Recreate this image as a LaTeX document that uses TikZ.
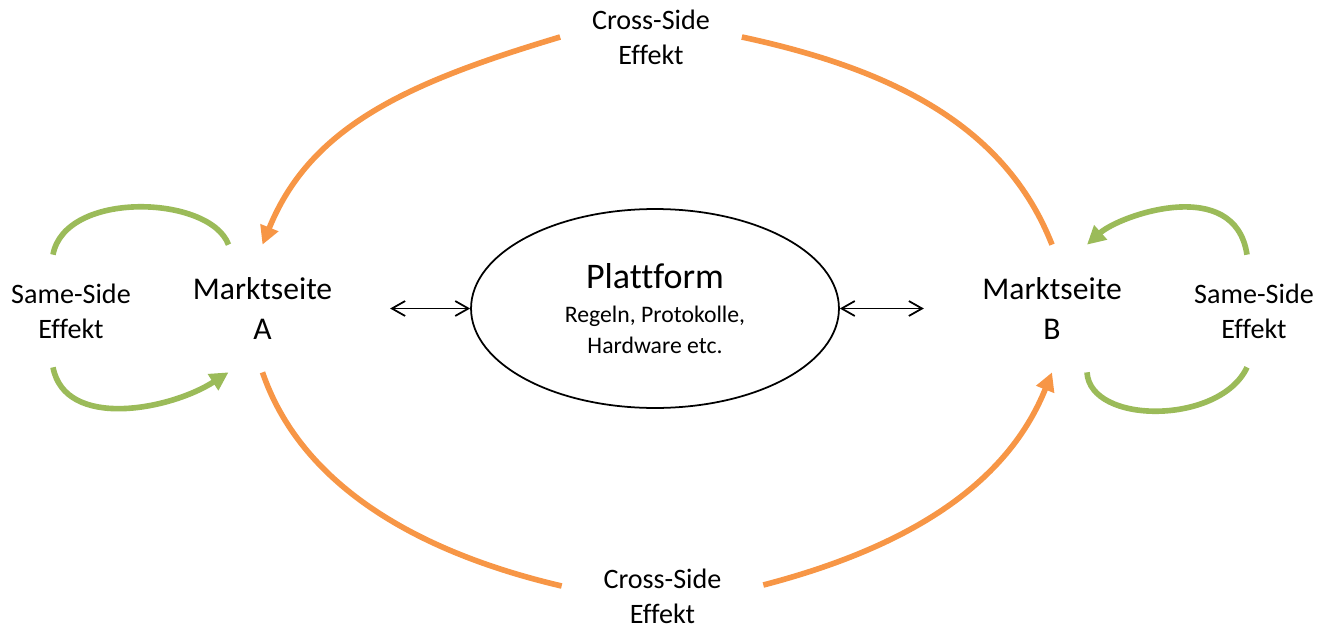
\documentclass[tikz,border=0pt]{standalone}
\usepackage{fontspec}
\setmainfont{Carlito}[Ligatures=NoCommon]
\usetikzlibrary{positioning,calc,arrows.meta,shapes.geometric}
\definecolor{crossorange}{HTML}{F79646}
\definecolor{samegreen}{HTML}{9BBB59}

\begin{document}
\begin{tikzpicture}[x=0.02cm, y=-0.02cm,
		side/.style={align=center, font=\fontsize{18}{23.2}\selectfont, minimum height=2.54cm, inner sep=0pt},
		effect/.style={align=center, font=\fontsize{16}{20}\selectfont, inner sep=0pt},
		cross/.style={crossorange, line width=3.2pt},
		same/.style={samegreen, line width=3.2pt},
		arrowed/.style={-{Triangle[length=10.5pt,width=10.5pt]}},
		link/.style={{Straight Barb[length=7.5pt,width=8.5pt]}-{Straight Barb[length=7.5pt,width=8.5pt]}, line width=1pt}]
	\useasboundingbox (0,0) rectangle (1319,629);
	\node[side] (A) at (262.5,308.5) {Marktseite\\A};
	\node[side] (B) at (1052,308.5) {Marktseite\\B};
	\node[draw, ellipse, line width=1pt, minimum width=7.36cm, minimum height=3.98cm, inner sep=0pt,
		align=center, font=\fontsize{13.5}{17.6}\selectfont] (plat) at (655,308.5)
		{{\fontsize{20.5}{24}\selectfont Plattform}\\[1.7pt]Regeln, Protokolle,\\Hardware etc.};
	\node[effect, minimum height=2.24cm] (ssA) at (71,311) {Same-Side\\Effekt};
	\node[effect, minimum height=2.24cm] (ssB) at (1254,311) {Same-Side\\Effekt};
	\node[effect, minimum width=3.62cm] (csTop) at (651,37) {Cross-Side\\Effekt};
	\node[effect, minimum width=4.02cm] (csBot) at (662.5,596) {Cross-Side\\Effekt};
	\coordinate[left=1.6cm of plat.west] (lA);
	\coordinate[right=1.68cm of plat.east] (rB);

	\draw[link] (lA) -- (plat.west);
	\draw[link] (plat.east) -- (rB);

	\draw[cross] (B.north) .. controls (1005,125) and (891,69) .. (csTop.east);
	\draw[cross, arrowed] (csTop.west) .. controls (410,82) and (311,125) .. (A.north);
	\draw[cross] (A.south) .. controls (300,482) and (412,551) .. ($(csBot.west)+(0,-10)$);
	\draw[cross, arrowed] ($(csBot.east)+(0,-11)$) .. controls (913,546) and (1008,482) .. (B.south);

	\draw[same] ($(A.north)+(-34,0)$) .. controls (210,195) and (65,190) .. ($(ssA.north)+(-18,0)$);
	\draw[same, arrowed] ($(ssA.south)+(-18,0)$) .. controls (65,430) and (170,410) .. ($(A.south)+(-34,0)$);
	\draw[same, arrowed] ($(ssB.north)+(-7,0)$) .. controls (1235,175) and (1120,215) .. ($(B.north)+(35,0)$);
	\draw[same] ($(B.south)+(35,0)$) .. controls (1090,425) and (1220,425) .. ($(ssB.south)+(-7,0)$);
\end{tikzpicture}
\end{document}
